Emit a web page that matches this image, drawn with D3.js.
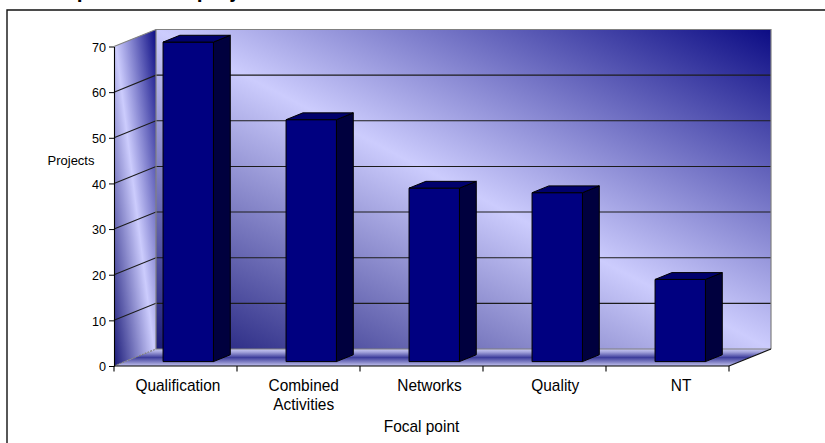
<!DOCTYPE html>
<html>
<head>
<meta charset="utf-8">
<script src="https://cdn.jsdelivr.net/npm/d3@7"></script>
<style>
  html, body { margin: 0; padding: 0; background: #fff; }
  svg { display: block; }
  text { font-family: Arial, "Liberation Sans", sans-serif; fill: #000; }
</style>
</head>
<body>
<svg id="chart" width="825" height="443"></svg>
<script>
// Projects per focal point
const categories = ["Qualification", "Combined Activities", "Networks", "Quality", "NT"];
const projects = [70, 53, 38, 37, 18];
const yTicks = [0, 10, 20, 30, 40, 50, 60, 70];
const chartTitle = "Focal point of the projects";
const yTitle = "Projects";
const xTitle = "Focal point";

const svg = d3.select("#chart");
const W = 825, H = 443;

// plot geometry (front plane + depth offset of the 3D box)
const plotL = 114, plotR = 729, plotB = 366, plotT = 46.5;
const depth = { dx: 42, dy: -17 };

const y = d3.scaleLinear().domain([0, 70]).range([plotB, plotT]);
const x = d3.scaleBand().domain(categories).range([plotL, plotR]);
const xLabel = d3.scaleBand().domain(categories).range([115, 744]);

// project a (band x, value, depth fraction) point to the screen
const P = (xb, v, d) => [xb + d * depth.dx, y(v) + d * depth.dy];
const poly = pts => "M" + pts.map(p => p.join(",")).join("L") + "Z";
const line = pts => "M" + pts.map(p => p.join(",")).join("L");

// gradients
const defs = svg.append("defs");
function diag(id, stops) {
  const g = defs.append("linearGradient").attr("id", id)
    .attr("x1", 1).attr("y1", 0).attr("x2", 0).attr("y2", 1);
  stops.forEach(s => g.append("stop").attr("offset", s[0]).attr("stop-color", s[1]));
}
diag("wallGrad", [[0, "#0c0c84"], [0.5, "#ccccfd"], [1, "#1a1a78"]]);
const fg = defs.append("linearGradient").attr("id", "floorGrad")
  .attr("x1", 0).attr("y1", 0).attr("x2", 0).attr("y2", 1);
[[0, "#c8c8f4"], [0.18, "#a4a4dc"], [0.5, "#3e3e9c"], [0.78, "#8686c8"], [1, "#c4c4f0"]]
  .forEach(s => fg.append("stop").attr("offset", s[0]).attr("stop-color", s[1]));

// outer chart frame
svg.append("path").attr("d", `M7,${H} V10 H${W}`)
  .attr("fill", "none").attr("stroke", "#111").attr("stroke-width", 1.4);

// title (sits at the very top edge)
svg.append("text").attr("x", 16).attr("y", -2.5)
  .attr("font-size", 21).attr("font-weight", "bold").text(chartTitle);

// back wall
const bw0 = P(plotL, 70, 1), bw1 = P(plotR, 0, 1);
svg.append("rect").attr("x", bw0[0]).attr("y", bw0[1])
  .attr("width", bw1[0] - bw0[0]).attr("height", bw1[1] - bw0[1])
  .attr("fill", "url(#wallGrad)");

// side wall
svg.append("path")
  .attr("d", poly([P(plotL, 0, 0), P(plotL, 70, 0), P(plotL, 70, 1), P(plotL, 0, 1)]))
  .attr("fill", "url(#wallGrad)");

// floor
svg.append("path")
  .attr("d", poly([P(plotL, 0, 0), P(plotR, 0, 0), P(plotR, 0, 1), P(plotL, 0, 1)]))
  .attr("fill", "url(#floorGrad)");

// gridlines on back and side walls
yTicks.filter(v => v > 0 && v < 70).forEach(v => {
  svg.append("path")
    .attr("d", line([P(plotL, v, 0), P(plotL, v, 1), P(plotR, v, 1)]))
    .attr("fill", "none").attr("stroke", "#1c1c1c").attr("stroke-width", 1.1);
});

// wall edges
const edgeStyle = sel => sel.attr("fill", "none").attr("stroke", "#808080").attr("stroke-width", 1.2);
svg.append("path")
  .attr("d", line([P(plotL, 70, 0), P(plotL, 70, 1), P(plotR, 70, 1), P(plotR, 0, 1)]))
  .call(edgeStyle);
svg.append("path")
  .attr("d", line([P(plotL, 70, 1), P(plotL, 0, 1), P(plotR, 0, 1)]))
  .call(edgeStyle);
svg.append("path")
  .attr("d", line([P(plotL, 0, 0), P(plotL, 0, 1)]))
  .call(edgeStyle).attr("stroke-dasharray", "2,1");
svg.append("path")
  .attr("d", line([P(plotR, 0, 0), P(plotR, 0, 1)]))
  .attr("fill", "none").attr("stroke", "#111").attr("stroke-width", 1.1);

// 3D columns
const bwid = x.bandwidth();
const d0 = 0.26, d1 = 0.66;
const bars = svg.append("g").attr("stroke", "#000").attr("stroke-width", 1).attr("stroke-linejoin", "round");
categories.forEach((c, i) => {
  const v = projects[i];
  const xa = x(c) + 0.31 * bwid, xb = xa + 0.41 * bwid;
  const g = bars.append("g");
  g.append("path").attr("fill", "#000080")
    .attr("d", poly([P(xa, 0, d0), P(xb, 0, d0), P(xb, v, d0), P(xa, v, d0)]));
  g.append("path").attr("fill", "#00003e")
    .attr("d", poly([P(xb, 0, d0), P(xb, 0, d1), P(xb, v, d1), P(xb, v, d0)]));
  g.append("path").attr("fill", "#00006c")
    .attr("d", poly([P(xa, v, d0), P(xb, v, d0), P(xb, v, d1), P(xa, v, d1)]));
});

// y axis
const yAxis = svg.append("g").attr("transform", `translate(${plotL},0)`)
  .call(d3.axisLeft(y).tickValues(yTicks).tickSize(5).tickSizeOuter(0).tickPadding(3));
yAxis.select(".domain").attr("stroke", "#000").attr("stroke-width", 1.1);
yAxis.selectAll(".tick line").attr("stroke", "#000");
yAxis.selectAll(".tick text").attr("font-size", 12.6).attr("font-family", "Arial, 'Liberation Sans', sans-serif").attr("dy", "0.38em");

// x axis line and boundary ticks
const xAxis = svg.append("g");
xAxis.append("path").attr("d", `M${plotL},${plotB}H${plotR}`)
  .attr("stroke", "#000").attr("stroke-width", 1.1);
const edges = categories.map(c => x(c)).concat([x(categories[categories.length - 1]) + bwid]);
xAxis.selectAll("line.tk").data(edges).join("line").attr("class", "tk")
  .attr("x1", d => d).attr("x2", d => d).attr("y1", plotB).attr("y2", plotB + 5.5)
  .attr("stroke", "#000").attr("stroke-width", 1.1);

// category labels
categories.forEach(c => {
  const g = svg.append("g")
    .attr("transform", `translate(${xLabel(c) + xLabel.bandwidth() / 2},390.7) scale(0.92,1)`);
  const t = g.append("text").attr("text-anchor", "middle").attr("font-size", 16.8);
  c.split(" ").forEach((w, k) => t.append("tspan").attr("x", 0).attr("dy", k ? 19.3 : 0).text(w));
});

// axis titles
svg.append("text").attr("x", 71).attr("y", 165).attr("text-anchor", "middle")
  .attr("font-size", 13).text(yTitle);
svg.append("g").attr("transform", `translate(${(plotL + plotR) / 2},432) scale(0.92,1)`)
  .append("text").attr("text-anchor", "middle").attr("font-size", 16.8).text(xTitle);
</script>
</body>
</html>
